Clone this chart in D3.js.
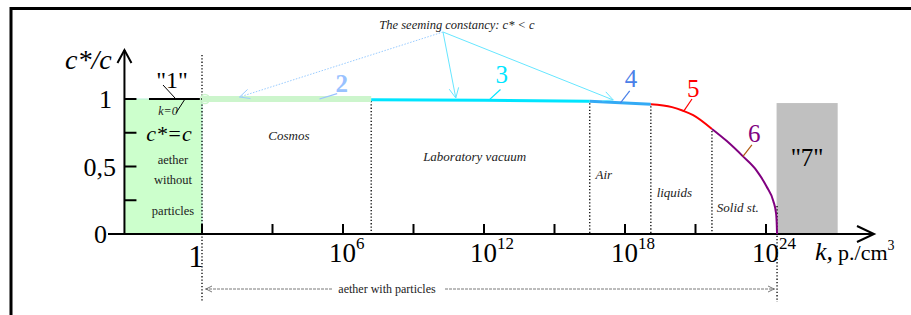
<!DOCTYPE html>
<html>
<head>
<meta charset="utf-8">
<script src="https://cdn.jsdelivr.net/npm/d3@7"></script>
<style>
  body { margin: 0; background: #fff; }
  svg { display: block; }
  text { font-family: 'Liberation Serif', 'Times New Roman', Tinos, serif; }
</style>
</head>
<body>
<div id="vizArea"></div>
<script>
// exponent of k (p./cm3) vs c*/c
const seg2 = [[0, 1], [7.2, 1]];
const seg3 = [[7.2, 0.995], [12, 0.99], [16.5, 0.984]];
const seg4 = [[16.5, 0.984], [19.1, 0.961]];
const seg5 = [[19.1, 0.961], [20.0, 0.94], [20.47, 0.913], [20.9, 0.881], [21.7, 0.778]];
const seg6 = [[21.7, 0.778], [22.32, 0.69], [23.02, 0.575], [23.6, 0.47], [24.03, 0.35], [24.31, 0.245], [24.43, 0.15], [24.46, 0.06], [24.47, 0]];

const xTicks = [0, 3, 6, 9, 12, 15, 18, 21, 24];
const xLabels = [6, 12, 18, 24];
const yTicks = [0, 0.25, 0.5, 0.75, 1];
const yLabels = [[1, "1"], [0.5, "0,5"], [0, "0"]];

// region boundaries (exponent, value where the dotted line starts)
const bounds = [[7.2, 1], [16.5, 0.984], [19.1, 0.961], [21.7, 0.778]];
const regions = [
  ["Cosmos", 3.7, 0.697],
  ["Laboratory vacuum", 11.6, 0.541],
  ["Air", 17.1, 0.407],
  ["liquids", 20.1, 0.274],
  ["Solid st.", 22.8, 0.163]
];
const segLabels = [
  ["2", 5.95, 1.052, "#99c2ff", [5.0, 1.0], [5.75, 1.04]],
  ["3", 12.75, 1.12, "#00e5ff", [12.2, 0.99], [12.7, 1.07]],
  ["4", 18.25, 1.09, "#4a80e8", [17.8, 0.97], [18.2, 1.06]],
  ["5", 20.9, 1.015, "#ff0000", [20.5, 0.91], [20.85, 1.0]],
  ["6", 23.5, 0.683, "#800080", [23.02, 0.575], [23.4, 0.66]]
];

const width = 911, height = 315;
const x = d3.scaleLinear().domain([0, 24]).range([202, 766]);
const y = d3.scaleLinear().domain([0, 1]).range([234, 99]);

const svg = d3.select("#vizArea").append("svg")
  .attr("width", width).attr("height", height)
  .attr("font-family", "'Liberation Serif', 'Times New Roman', serif");

// frame
svg.append("path").attr("d", "M11,315 V8.5 H911")
  .attr("fill", "none").attr("stroke", "#000").attr("stroke-width", 3);

// green "k=0" region and grey "7" region
svg.append("rect").attr("x", x(-3.3)).attr("y", y(1))
  .attr("width", x(0) - x(-3.3)).attr("height", y(0) - y(1))
  .attr("fill", "#ccffcc").attr("stroke", "#b8f0d8");
svg.append("rect").attr("x", x(24.45)).attr("y", y(0.97))
  .attr("width", x(27.05) - x(24.45)).attr("height", y(0) - y(0.97))
  .attr("fill", "#c0c0c0");

// dotted verticals
const dotted = g => g.attr("stroke", "#000").attr("stroke-width", 1.3).attr("stroke-dasharray", "1.3,2");
svg.append("line").attr("x1", x(0)).attr("x2", x(0)).attr("y1", 55).attr("y2", 302).call(dotted);
svg.append("line").attr("x1", x(24.47)).attr("x2", x(24.47)).attr("y1", 206).attr("y2", 302).call(dotted);
svg.selectAll(".bound").data(bounds).join("line")
  .attr("x1", d => x(d[0])).attr("x2", d => x(d[0]))
  .attr("y1", d => y(d[1]) + 2).attr("y2", y(0))
  .call(dotted);

// axes
svg.append("line").attr("x1", 108).attr("x2", 874).attr("y1", y(0)).attr("y2", y(0))
  .attr("stroke", "#000").attr("stroke-width", 2);
svg.append("path").attr("d", `M857,226 L874,${y(0)} L857,242`)
  .attr("fill", "none").attr("stroke", "#000").attr("stroke-width", 2);
const yx = x(-3.3);
svg.append("line").attr("x1", yx).attr("x2", yx).attr("y1", y(0)).attr("y2", 50)
  .attr("stroke", "#000").attr("stroke-width", 2);
svg.append("path").attr("d", `M${yx - 7},63 L${yx},50 L${yx + 7},63`)
  .attr("fill", "none").attr("stroke", "#000").attr("stroke-width", 2);

svg.selectAll(".xt").data(xTicks).join("line")
  .attr("x1", d => x(d)).attr("x2", d => x(d))
  .attr("y1", y(0) - 10).attr("y2", y(0))
  .attr("stroke", "#000").attr("stroke-width", 2);
svg.selectAll(".yt").data(yTicks).join("line")
  .attr("x1", yx).attr("x2", yx + 12)
  .attr("y1", d => y(d)).attr("y2", d => y(d))
  .attr("stroke", "#000").attr("stroke-width", 2);

svg.selectAll(".yl").data(yLabels).join("text")
  .attr("x", d => d[1] === "0" ? 107 : (d[1] === "1" ? 112 : 116))
  .attr("y", d => y(d[0]) + 9)
  .attr("text-anchor", "end").attr("font-size", 26)
  .text(d => d[1]);

svg.append("text").attr("x", x(0) - 6).attr("y", 267)
  .attr("text-anchor", "middle").attr("font-size", 31).text("1");
const xl = svg.selectAll(".xl").data(xLabels).join("text")
  .attr("x", d => x(d) - 14).attr("y", 262).attr("font-size", 27);
xl.append("tspan").text("10");
xl.append("tspan").attr("dy", -13).attr("font-size", 17).text(d => d);

const kl = svg.append("text").attr("x", 815).attr("y", 260);
kl.append("tspan").attr("font-style", "italic").attr("font-size", 26).text("k,");
kl.append("tspan").attr("font-size", 22).attr("dx", 5).text("p./cm");
kl.append("tspan").attr("font-size", 14).attr("dy", -10).text("3");

svg.append("text").attr("x", 65).attr("y", 69)
  .attr("font-style", "italic").attr("font-size", 28).text("c*/c");

// curve
const line = d3.line().x(d => x(d[0])).y(d => y(d[1])).curve(d3.curveMonotoneX);
svg.append("line").attr("x1", 149).attr("x2", x(0)).attr("y1", y(1)).attr("y2", y(1))
  .attr("stroke", "#000").attr("stroke-width", 2);
svg.append("path").datum(seg2).attr("d", line).attr("fill", "none")
  .attr("stroke", "#ccf5cc").attr("stroke-width", 6);
svg.append("circle").attr("cx", x(0) + 3).attr("cy", y(1)).attr("r", 4.5)
  .attr("fill", "none").attr("stroke", "#ccf5cc").attr("stroke-width", 1.5);
svg.append("path").datum(seg3).attr("d", line).attr("fill", "none")
  .attr("stroke", "#00e5ff").attr("stroke-width", 3);
svg.append("path").datum(seg4).attr("d", line).attr("fill", "none")
  .attr("stroke", "#33aaf5").attr("stroke-width", 3);
svg.append("path").datum(seg5).attr("d", line).attr("fill", "none")
  .attr("stroke", "#ff0000").attr("stroke-width", 2);
svg.append("path").datum(seg6).attr("d", line).attr("fill", "none")
  .attr("stroke", "#800080").attr("stroke-width", 2);

// segment labels with leader lines
svg.selectAll(".ld").data(segLabels).join("line")
  .attr("x1", d => x(d[4][0])).attr("y1", d => y(d[4][1]))
  .attr("x2", d => x(d[5][0])).attr("y2", d => y(d[5][1]))
  .attr("stroke", d => d[0] === "6" ? "#b05a10" : d[3]).attr("stroke-width", 1.2);
svg.selectAll(".sl").data(segLabels).join("text")
  .attr("x", d => x(d[1])).attr("y", d => y(d[2]))
  .attr("text-anchor", "middle").attr("font-size", 25)
  .attr("font-weight", d => d[0] === "2" ? "bold" : "normal")
  .attr("fill", d => d[3]).text(d => d[0]);

// region labels
svg.selectAll(".rl").data(regions).join("text")
  .attr("x", d => x(d[1])).attr("y", d => y(d[2]))
  .attr("text-anchor", "middle").attr("font-style", "italic").attr("font-size", 13)
  .attr("fill", "#222").text(d => d[0]);

// k=0 region texts
svg.append("text").attr("x", 172).attr("y", 88).attr("text-anchor", "middle")
  .attr("font-size", 24).text("\"1\"");
svg.append("line").attr("x1", 163).attr("y1", 85).attr("x2", 175).attr("y2", 98)
  .attr("stroke", "#000").attr("stroke-width", 1);
svg.append("line").attr("x1", 185).attr("y1", 99).attr("x2", 176).attr("y2", 113)
  .attr("stroke", "#000").attr("stroke-width", 1);
svg.append("text").attr("x", 168).attr("y", 115).attr("text-anchor", "middle")
  .attr("font-style", "italic").attr("font-size", 12).attr("fill", "#222").text("k=0");
svg.append("text").attr("x", 169).attr("y", 141).attr("text-anchor", "middle")
  .attr("font-style", "italic").attr("font-size", 22).text("c*=c");
[["aether", 164], ["without", 184], ["particles", 215]].forEach(t => {
  svg.append("text").attr("x", 173).attr("y", t[1]).attr("text-anchor", "middle")
    .attr("font-size", 12.5).attr("fill", "#222").text(t[0]);
});
svg.append("text").attr("x", x(25.75)).attr("y", 166).attr("text-anchor", "middle")
  .attr("font-size", 25).text("\"7\"");

// "The seeming constancy" arrows
const ox = 443, oy = 32;
svg.append("text").attr("x", 457).attr("y", 29).attr("text-anchor", "middle")
  .attr("font-style", "italic").attr("font-size", 12.5).attr("fill", "#222")
  .text("The seeming constancy:  c* < c");
function arrow(tx, ty, color, dash) {
  const a = Math.atan2(ty - oy, tx - ox), L = 11, s = 0.45;
  svg.append("line").attr("x1", ox).attr("y1", oy).attr("x2", tx).attr("y2", ty)
    .attr("stroke", color).attr("stroke-width", 1).attr("stroke-dasharray", dash);
  svg.append("path")
    .attr("d", `M${tx - L * Math.cos(a - s)},${ty - L * Math.sin(a - s)} L${tx},${ty} L${tx - L * Math.cos(a + s)},${ty - L * Math.sin(a + s)}`)
    .attr("fill", "none").attr("stroke", color).attr("stroke-width", 1);
}
arrow(x(1.6), 97, "#99ccff", "1.5,1.5");
arrow(x(10.8), 98, "#66e6ff", null);
arrow(x(17.5), 100, "#66e6ff", null);

// aether with particles
const ay = 289;
svg.append("line").attr("x1", x(0) + 3).attr("x2", 333).attr("y1", ay).attr("y2", ay)
  .attr("stroke", "#555").attr("stroke-width", 0.8).attr("stroke-dasharray", "3,1");
svg.append("line").attr("x1", 445).attr("x2", x(24.47) - 2).attr("y1", ay).attr("y2", ay)
  .attr("stroke", "#555").attr("stroke-width", 0.8).attr("stroke-dasharray", "3,1");
svg.append("path").attr("d", `M${x(0) + 10},${ay - 3} L${x(0) + 4},${ay} L${x(0) + 10},${ay + 3}`)
  .attr("fill", "none").attr("stroke", "#555").attr("stroke-width", 0.8);
svg.append("path").attr("d", `M${x(24.47) - 9},${ay - 3} L${x(24.47) - 3},${ay} L${x(24.47) - 9},${ay + 3}`)
  .attr("fill", "none").attr("stroke", "#555").attr("stroke-width", 0.8);
svg.append("text").attr("x", 387).attr("y", 293).attr("text-anchor", "middle")
  .attr("font-size", 12).attr("fill", "#222").text("aether with particles");
</script>
</body>
</html>
